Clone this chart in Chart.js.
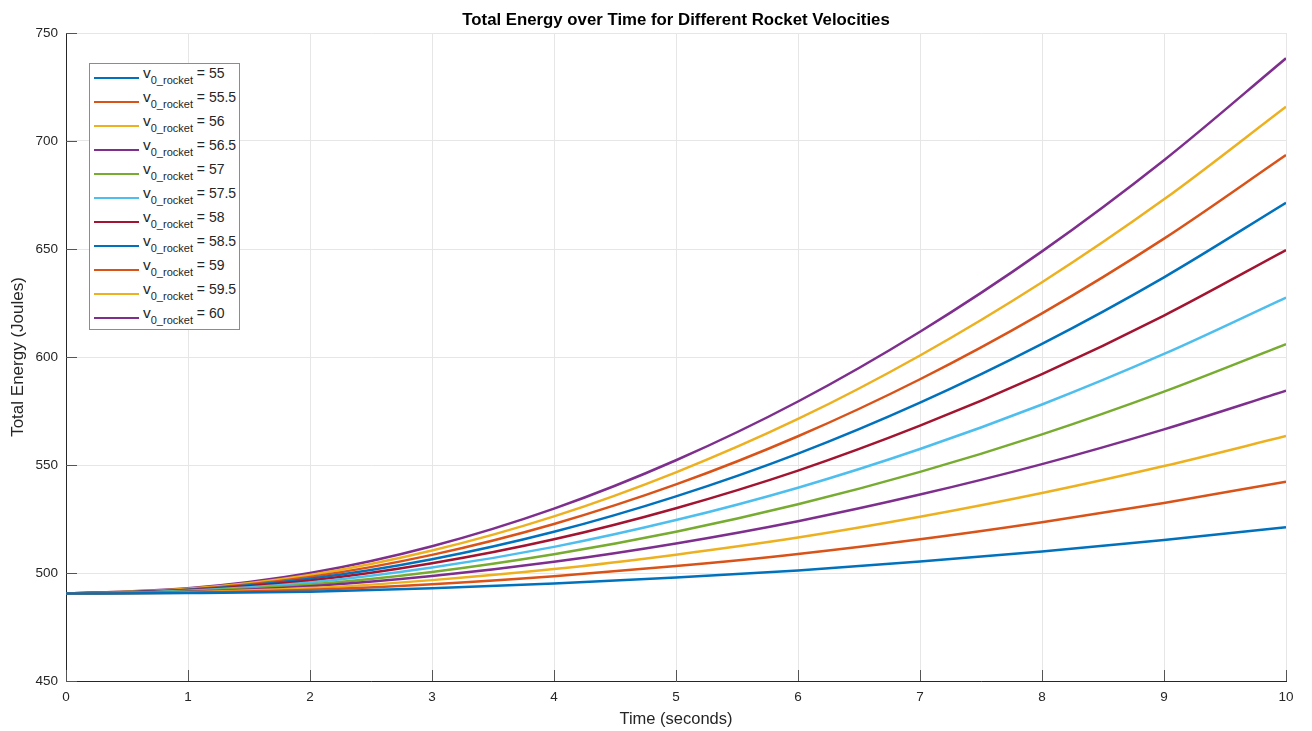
<!DOCTYPE html>
<html>
<head>
<meta charset="utf-8">
<script src="https://cdn.jsdelivr.net/npm/chart.js@4"></script>
<style>
  html, body { margin: 0; padding: 0; background: #fff; }
  #wrap { position: relative; width: 1312px; height: 731px; }
  #legend {
    position: absolute; left: 89px; top: 63px; width: 151px; height: 267px;
    border: 1px solid #8c8c8c; background: #fff; box-sizing: border-box;
    font-family: "Liberation Sans", Arial, sans-serif; color: #262626;
    padding-top: 1px;
  }
  .row { height: 24px; position: relative; }
  .swatch { position: absolute; left: 4px; top: 12px; width: 45px; height: 0; border-top: 2.8px solid; }
  .lbl { position: absolute; left: 53px; top: -1px; font-size: 14px; line-height: 18px; white-space: nowrap; }
  .lbl .v { font-size: 15.5px; }
  .lbl sub { font-size: 11px; vertical-align: -6px; line-height: 0; }
</style>
</head>
<body>
<div id="wrap">
  <canvas id="chart" width="1312" height="731"></canvas>
  <div id="legend"></div>
</div>
<script>
// time axis (seconds)
var times = [0, 1, 2, 3, 4, 5, 6, 7, 8, 9, 10];

// initial rocket velocities
var velocities = [55, 55.5, 56, 56.5, 57, 57.5, 58, 58.5, 59, 59.5, 60];

// total energy (J), one array per velocity
var energy55   = [490.5, 490.7, 491.3, 492.9, 495.1, 497.9, 501.2, 505.3, 510.0, 515.3, 521.2];
var energy55_5 = [490.5, 490.9, 492.2, 494.8, 498.5, 503.2, 508.8, 515.6, 523.5, 532.4, 542.3];
var energy56   = [490.5, 491.1, 493.0, 496.7, 501.8, 508.5, 516.4, 526.0, 537.0, 549.5, 563.4];
var energy56_5 = [490.5, 491.3, 493.9, 498.6, 505.2, 513.7, 524.0, 536.3, 550.4, 566.5, 584.4];
var energy57   = [490.5, 491.6, 494.7, 500.5, 508.7, 519.1, 531.8, 546.8, 564.2, 584.0, 606.0];
var energy57_5 = [490.5, 491.8, 495.6, 502.5, 512.1, 524.5, 539.5, 557.4, 578.0, 601.4, 627.5];
var energy58   = [490.5, 492.0, 496.5, 504.5, 515.6, 530.0, 547.4, 568.2, 592.1, 619.2, 649.5];
var energy58_5 = [490.5, 492.2, 497.4, 506.4, 519.1, 535.5, 555.3, 578.9, 606.1, 636.9, 671.4];
var energy59   = [490.5, 492.4, 498.2, 508.4, 522.7, 541.0, 563.3, 589.7, 620.2, 654.8, 693.5];
var energy59_5 = [490.5, 492.7, 499.1, 510.4, 526.2, 546.6, 571.3, 600.7, 634.6, 673.0, 715.9];
var energy60   = [490.5, 492.9, 500.0, 512.4, 529.8, 552.2, 579.4, 611.7, 648.9, 691.1, 738.3];

var allEnergy = [energy55, energy55_5, energy56, energy56_5, energy57, energy57_5,
                 energy58, energy58_5, energy59, energy59_5, energy60];

// matlab default colour order
var colorOrder = ['#0072BD', '#D95319', '#EDB120', '#7E2F8E', '#77AC30', '#4DBEEE', '#A2142F'];

var FONT = '"Liberation Sans", Arial, sans-serif';
var AXIS = '#262626';

var datasets = velocities.map(function(v, i) {
    var c = colorOrder[i % colorOrder.length];
    return {
        label: 'v0_rocket = ' + v,
        data: times.map(function(t, j) { return {x: t, y: allEnergy[i][j]}; }),
        borderColor: c,
        backgroundColor: c,
        borderWidth: 2.5,
        pointRadius: 0,
        cubicInterpolationMode: 'monotone',
        fill: false
    };
});

// legend with proper subscript
var legend = document.getElementById('legend');
velocities.forEach(function(v, i) {
    var row = document.createElement('div');
    row.className = 'row';
    row.innerHTML = '<div class="swatch" style="border-color:' + colorOrder[i % colorOrder.length] + '"></div>' +
        '<div class="lbl"><span class="v">v</span><sub>0_rocket</sub> = ' + v + '</div>';
    legend.appendChild(row);
});

// inward tick marks + title, like matlab
var matlabBits = {
    id: 'matlabBits',
    afterDraw: function(chart) {
        var ctx = chart.ctx;
        var area = chart.chartArea;
        var xs = chart.scales.x, ys = chart.scales.y;
        ctx.save();
        ctx.strokeStyle = '#555';
        ctx.lineWidth = 1;
        ctx.beginPath();
        xs.ticks.forEach(function(t) {
            var px = Math.round(xs.getPixelForValue(t.value)) + 0.5;
            ctx.moveTo(px, area.bottom);
            ctx.lineTo(px, area.bottom - 11);
        });
        ys.ticks.forEach(function(t) {
            var py = Math.round(ys.getPixelForValue(t.value)) + 0.5;
            ctx.moveTo(area.left, py);
            ctx.lineTo(area.left + 11, py);
        });
        ctx.stroke();

        ctx.fillStyle = '#000';
        ctx.font = 'bold 16.8px ' + FONT;
        ctx.textAlign = 'center';
        ctx.textBaseline = 'middle';
        ctx.fillText('Total Energy over Time for Different Rocket Velocities', (area.left + area.right) / 2, 20);
        ctx.restore();
    }
};

var ctx = document.getElementById('chart').getContext('2d');
var chart = new Chart(ctx, {
    type: 'line',
    data: { datasets: datasets },
    plugins: [matlabBits],
    options: {
        responsive: false,
        animation: false,
        layout: { padding: { top: 33, right: 26, left: 0, bottom: 0 } },
        plugins: {
            legend: { display: false },
            tooltip: { enabled: false }
        },
        scales: {
            x: {
                type: 'linear',
                min: 0,
                max: 10,
                ticks: { stepSize: 1, color: AXIS, font: { family: FONT, size: 13.5 }, padding: 8, maxRotation: 0 },
                grid: { color: '#e6e6e6', drawTicks: false },
                border: { display: true, color: AXIS, width: 1 },
                title: { display: true, text: 'Time (seconds)', color: AXIS, font: { family: FONT, size: 16.5 }, padding: { top: 0, bottom: 2 } },
                afterFit: function(s) { s.height = 50; }
            },
            y: {
                min: 450,
                max: 750,
                ticks: { stepSize: 50, color: AXIS, font: { family: FONT, size: 13.5 }, padding: 8 },
                grid: { color: '#e6e6e6', drawTicks: false },
                border: { display: true, color: AXIS, width: 1 },
                title: { display: true, text: 'Total Energy (Joules)', color: AXIS, font: { family: FONT, size: 17 }, padding: { top: 8, bottom: 0 } },
                afterFit: function(s) { s.width = 66; }
            }
        }
    }
});
</script>
</body>
</html>
